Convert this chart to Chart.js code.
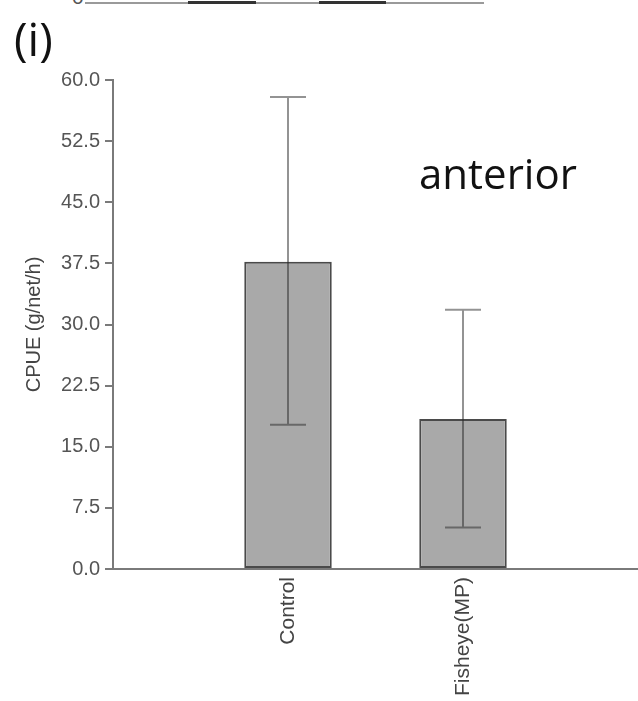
<!DOCTYPE html>
<html>
<head>
<meta charset="utf-8">
<script src="https://cdn.jsdelivr.net/npm/chart.js@4"></script>
<style>
  html, body { margin: 0; padding: 0; background: #fff; }
  #wrap { position: relative; width: 638px; height: 701px; overflow: hidden; }
  #chart { position: absolute; left: 0; top: 0; }
  .label { position: absolute; font-family: 'Open Sans', sans-serif; color: #111; white-space: nowrap; line-height: 1; }
  /* 上一幅图残留的底边 */
  .prevAxis { position: absolute; top: 2px; left: 85px; width: 399px; height: 2px; background: #9a9a9a; }
  .prevBar { position: absolute; top: 1px; height: 3px; background: #333; }
  .prevTick { position: absolute; top: -14px; left: 72px; font: 21px 'Liberation Sans', Arial, sans-serif; color: #555; line-height: 1; }
</style>
</head>
<body>
<div id="wrap">
  <div class="prevTick">0</div>
  <div class="prevAxis"></div>
  <div class="prevBar" style="left:188px;width:68px"></div>
  <div class="prevBar" style="left:319px;width:67px"></div>
  <canvas id="chart" width="638" height="701"></canvas>
  <div class="label" style="left:14px;top:15px;font-size:46px;">(i)</div>
  <div class="label" style="left:419px;top:152px;font-size:42px;">anterior</div>
</div>
<script>
// 数据
const categories = ['', 'Control', 'Fisheye(MP)', ''];
const cpueMean = [null, 37.7, 18.4, null];
const cpueLow = [null, 17.7, 5.1, null];
const cpueHigh = [null, 57.9, 31.8, null];
const yTicks = [0, 7.5, 15, 22.5, 30, 37.5, 45, 52.5, 60];

// 误差线插件
const errorBars = {
    id: 'errorBars',
    afterDatasetsDraw(chart) {
        const ctx = chart.ctx;
        const y = chart.scales.y;
        const meta = chart.getDatasetMeta(0);
        ctx.save();
        ctx.strokeStyle = 'rgba(40, 40, 40, 0.5)';
        ctx.lineWidth = 2;
        meta.data.forEach(function(bar, i) {
            if (cpueMean[i] === null) return;
            const yl = y.getPixelForValue(cpueLow[i]);
            const yh = y.getPixelForValue(cpueHigh[i]);
            ctx.beginPath();
            ctx.moveTo(bar.x, yl);
            ctx.lineTo(bar.x, yh);
            ctx.moveTo(bar.x - 18, yl);
            ctx.lineTo(bar.x + 18, yl);
            ctx.moveTo(bar.x - 18, yh);
            ctx.lineTo(bar.x + 18, yh);
            ctx.stroke();
        });
        ctx.restore();
    }
};

const tickFont = { family: "'Liberation Sans', Arial, sans-serif", size: 20 };
const xTickFont = { family: "'Liberation Sans', Arial, sans-serif", size: 21 };

new Chart(document.getElementById('chart'), {
    type: 'bar',
    data: {
        labels: categories,
        datasets: [{
            data: cpueMean,
            backgroundColor: '#a9a9a9',
            borderColor: '#4a4a4a',
            borderWidth: 2,
            borderSkipped: false,
            barPercentage: 0.5,
            categoryPercentage: 1
        }]
    },
    options: {
        responsive: false,
        animation: false,
        layout: { padding: { top: 80, right: 0, left: 0, bottom: 0 } },
        plugins: {
            legend: { display: false },
            tooltip: { enabled: false }
        },
        scales: {
            x: {
                offset: false,
                grid: { display: false },
                border: { color: '#7a7a7a', width: 2 },
                ticks: {
                    minRotation: 90,
                    maxRotation: 90,
                    color: '#444',
                    font: xTickFont,
                    padding: 0
                },
                afterFit: function(scale) {
                    scale.height = 132;
                    scale.paddingLeft = 0;
                    scale.paddingRight = 0;
                }
            },
            y: {
                min: 0,
                max: 60,
                afterBuildTicks: function(scale) {
                    scale.ticks = yTicks.map(function(v) { return { value: v }; });
                },
                grid: {
                    drawOnChartArea: false,
                    drawTicks: true,
                    tickLength: 8,
                    color: '#7a7a7a',
                    lineWidth: 2
                },
                border: { color: '#7a7a7a', width: 2 },
                ticks: {
                    color: '#555',
                    font: tickFont,
                    padding: 5,
                    callback: function(value) { return Number(value).toFixed(1); }
                },
                title: {
                    display: true,
                    text: 'CPUE (g/net/h)',
                    color: '#444',
                    font: tickFont,
                    padding: { top: 22, bottom: 0 }
                },
                afterFit: function(scale) {
                    scale.width = 113;
                    scale.paddingTop = 0;
                    scale.paddingBottom = 0;
                }
            }
        }
    },
    plugins: [errorBars]
});
</script>
</body>
</html>
